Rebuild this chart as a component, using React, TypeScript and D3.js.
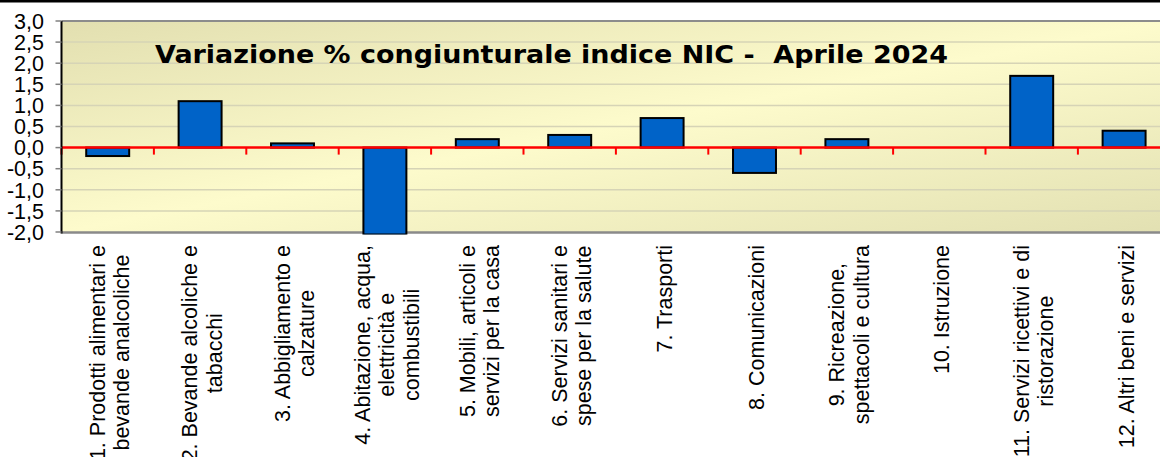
import React, { useRef, useEffect } from 'react';
import * as d3 from 'd3';

const titleText = "Variazione % congiunturale indice NIC -  Aprile 2024";

const categoryLabels = [
  ["1. Prodotti alimentari e", "bevande analcoliche"],
  ["2. Bevande alcoliche e", "tabacchi"],
  ["3. Abbigliamento e", "calzature"],
  ["4. Abitazione, acqua,", "elettricità e", "combustibili"],
  ["5. Mobili, articoli e", "servizi per la casa"],
  ["6. Servizi sanitari e", "spese per la salute"],
  ["7. Trasporti"],
  ["8. Comunicazioni"],
  ["9. Ricreazione,", "spettacoli e cultura"],
  ["10. Istruzione"],
  ["11. Servizi ricettivi e di", "ristorazione"],
  ["12. Altri beni e servizi"],
];

const variations = [-0.2, 1.1, 0.1, -2.0, 0.2, 0.3, 0.7, -0.6, 0.2, 0.0, 1.7, 0.4];

const yTickValues = [-2, -1.5, -1, -0.5, 0, 0.5, 1, 1.5, 2, 2.5, 3];

const W = 1160;
const H = 457;

const App = () => {
  const svgRef = useRef<SVGSVGElement>(null);

  useEffect(() => {
    const svg = d3.select(svgRef.current);
    svg.selectAll("*").remove();

    const left = 61.5, top = 21, bottom = 232, right = left + 12 * 92.4;
    const font = "'Liberation Sans', Arial, sans-serif";

    const x = d3.scaleBand<number>()
      .domain(d3.range(categoryLabels.length))
      .range([left, right])
      .paddingInner(0.535)
      .paddingOuter(0.535 / 2);
    const step = x.step();

    const y = d3.scaleLinear().domain([-2, 3]).range([bottom, top]);

    const it = d3.formatLocale({ decimal: ",", thousands: ".", grouping: [3], currency: ["€", ""], minus: "-" });
    const fmt = it.format(".1f");

    // top dark rule
    svg.append("rect").attr("x", 0).attr("y", 0).attr("width", W).attr("height", 2.5).attr("fill", "#000");

    const defs = svg.append("defs");
    const grad = defs.append("linearGradient")
      .attr("id", "bg")
      .attr("x1", 0).attr("y1", 0).attr("x2", 1).attr("y2", 1);
    grad.append("stop").attr("offset", "0%").attr("stop-color", "#e2dfb0");
    grad.append("stop").attr("offset", "50%").attr("stop-color", "#fdfbcc");
    grad.append("stop").attr("offset", "100%").attr("stop-color", "#e2e0b2");

    defs.append("clipPath").attr("id", "plotClip")
      .append("rect").attr("x", left).attr("y", top).attr("width", right - left).attr("height", bottom - top + 2.5);

    svg.append("rect")
      .attr("x", left).attr("y", top)
      .attr("width", right - left).attr("height", bottom - top)
      .attr("fill", "url(#bg)");

    // gridlines
    svg.append("g")
      .selectAll("line")
      .data(yTickValues.filter(d => d !== 0 && d !== -2 && d !== 3))
      .enter()
      .append("line")
      .attr("x1", left).attr("x2", right)
      .attr("y1", d => y(d)).attr("y2", d => y(d))
      .attr("stroke", "#d6d4b6")
      .attr("stroke-width", 1.5);

    // plot frame top / bottom
    svg.append("line").attr("x1", left).attr("x2", right).attr("y1", top).attr("y2", top)
      .attr("stroke", "#8c8c8c").attr("stroke-width", 2);
    svg.append("line").attr("x1", left).attr("x2", right).attr("y1", bottom + 0.5).attr("y2", bottom + 0.5)
      .attr("stroke", "#8a8a8a").attr("stroke-width", 2.5);

    // bars
    svg.append("g")
      .attr("clip-path", "url(#plotClip)")
      .selectAll("rect")
      .data(variations)
      .enter()
      .append("rect")
      .attr("x", (d, i) => x(i)!)
      .attr("width", x.bandwidth())
      .attr("y", d => y(Math.max(0, d)))
      .attr("height", d => Math.abs(y(d) - y(0)) + (d <= -2 ? 2.5 : 0))
      .attr("fill", "#0063c8")
      .attr("stroke", "#000")
      .attr("stroke-width", 2);

    // zero line with category ticks
    svg.append("line").attr("x1", left).attr("x2", right).attr("y1", y(0)).attr("y2", y(0))
      .attr("stroke", "#ff0000").attr("stroke-width", 2.5);
    svg.append("g")
      .selectAll("line")
      .data(d3.range(categoryLabels.length + 1))
      .enter()
      .append("line")
      .attr("x1", i => left + i * step).attr("x2", i => left + i * step)
      .attr("y1", y(0)).attr("y2", y(0) + 7)
      .attr("stroke", "#ff0000").attr("stroke-width", 2);

    // y axis
    svg.append("line").attr("x1", left).attr("x2", left).attr("y1", top).attr("y2", bottom + 1.5)
      .attr("stroke", "#000").attr("stroke-width", 2);
    const yAxis = svg.append("g");
    yAxis.selectAll("line")
      .data(yTickValues)
      .enter()
      .append("line")
      .attr("x1", left - 6).attr("x2", left)
      .attr("y1", d => y(d)).attr("y2", d => y(d))
      .attr("stroke", "#808080").attr("stroke-width", 1.5);
    yAxis.selectAll("text")
      .data(yTickValues)
      .enter()
      .append("text")
      .attr("x", 44)
      .attr("y", d => y(d))
      .attr("dy", "0.36em")
      .attr("text-anchor", "end")
      .style("font-family", font)
      .style("font-size", "21.5px")
      .style("fill", "#000")
      .text(d => fmt(d));

    // category labels, rotated, block top-aligned and lines centred
    const labelTop = 245;
    const lineGap = 24.5;
    const xLabels = svg.append("g");
    categoryLabels.forEach((lines, i) => {
      const cx = x(i)! + x.bandwidth() / 2;
      const g = xLabels.append("g");
      const texts = lines.map((ln) =>
        g.append("text")
          .attr("text-anchor", "middle")
          .style("font-family", font)
          .style("font-size", "21.5px")
          .style("fill", "#000")
          .text(ln)
      );
      const maxW = d3.max(texts, t => (t.node() as SVGTextElement).getComputedTextLength()) || 0;
      const yc = labelTop + maxW / 2;
      texts.forEach((t, j) => {
        const bx = cx + (j - (lines.length - 1) / 2) * lineGap + 9.5;
        t.attr("transform", `translate(${bx},${yc}) rotate(-90)`);
      });
    });

    // title
    svg.append("text")
      .attr("x", 155)
      .attr("y", 63)
      .attr("textLength", 793)
      .attr("lengthAdjust", "spacingAndGlyphs")
      .style("font-family", "'DejaVu Sans', Verdana, sans-serif")
      .style("font-weight", "bold")
      .style("font-size", "25px")
      .style("white-space", "pre")
      .style("fill", "#000")
      .text(titleText);
  }, []);

  return (
    <svg
      ref={svgRef}
      width={W}
      height={H}
      style={{ position: "absolute", left: 0, top: 0, display: "block", background: "#fff" }}
    ></svg>
  );
};

export default App;
